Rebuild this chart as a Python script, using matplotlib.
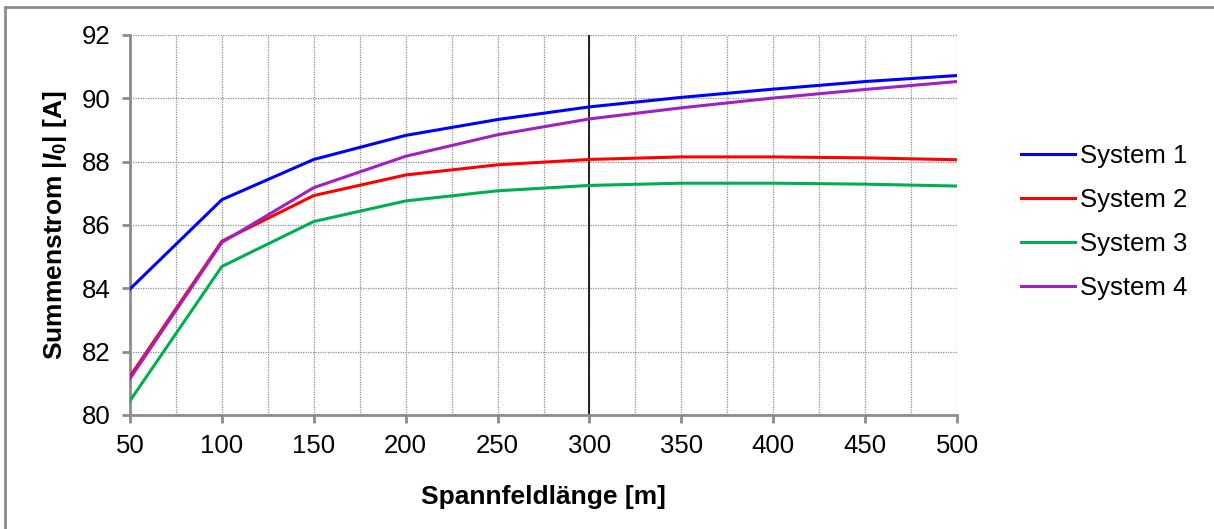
import matplotlib
matplotlib.use("Agg")
import matplotlib.pyplot as plt
from matplotlib.lines import Line2D
from matplotlib.ticker import MultipleLocator

plt.rcParams["font.family"] = ["Liberation Sans", "DejaVu Sans"]
plt.rcParams["mathtext.fontset"] = "custom"
plt.rcParams["mathtext.rm"] = "Liberation Sans:bold"
plt.rcParams["mathtext.it"] = "Liberation Sans:bold:italic"
plt.rcParams["mathtext.bf"] = "Liberation Sans:bold"

# Spannfeldlänge in m
spans = [50, 100, 150, 200, 250, 300, 350, 400, 450, 500]

# Summenstrom |I0| in A
system1 = [83.98, 86.80, 88.07, 88.83, 89.33, 89.73, 90.03, 90.29, 90.53, 90.72]
system2 = [81.22, 85.49, 86.93, 87.58, 87.90, 88.07, 88.15, 88.15, 88.12, 88.06]
system3 = [80.45, 84.69, 86.11, 86.76, 87.08, 87.25, 87.32, 87.32, 87.29, 87.23]
system4 = [81.15, 85.45, 87.18, 88.17, 88.85, 89.35, 89.70, 90.01, 90.28, 90.53]

series_names = ["System 1", "System 2", "System 3", "System 4"]
series_colors = ["#0000FF", "#FF0000", "#00B050", "#A020C0"]

x_ticks = [50, 100, 150, 200, 250, 300, 350, 400, 450, 500]
y_ticks = [80, 82, 84, 86, 88, 90, 92]
marker_span = 300

W, H = 1214, 529
fig = plt.figure(figsize=(W / 100, H / 100), dpi=100)
ax = fig.add_axes([130 / W, 1 - 415 / H, (957 - 130) / W, (415 - 35) / H])

grid_kw = dict(color="#8c8c8c", linewidth=0.9, linestyle=(0, (1, 1)))
ax.set_xlim(50, 500)
ax.set_ylim(80, 92)
ax.xaxis.set_minor_locator(MultipleLocator(25))
ax.set_xticks(x_ticks)
ax.set_yticks(y_ticks)
ax.grid(True, which="major", axis="both", **grid_kw)
ax.grid(True, which="minor", axis="x", **grid_kw)
ax.set_axisbelow(True)

all_series = [system1, system2, system3, system4]
handles = []
for vals, name, col in zip(all_series, series_names, series_colors):
    ln, = ax.plot(spans, vals, color=col, linewidth=2.2, label=name,
                  solid_joinstyle="round", zorder=3)
    handles.append(ln)

ax.axvline(marker_span, color="black", linewidth=1.2, zorder=2)

for side in ("top", "right"):
    ax.spines[side].set_visible(False)
for side in ("left", "bottom"):
    ax.spines[side].set_color("#8c8c8c")
    ax.spines[side].set_linewidth(2.0)

ax.tick_params(axis="both", which="major", direction="out", length=6,
               width=2.0, color="#8c8c8c", labelsize=18.5, labelcolor="black")
ax.tick_params(axis="x", which="major", pad=8)
ax.tick_params(axis="y", which="major", pad=8)
ax.tick_params(axis="x", which="minor", length=0)

ax.set_xlabel("Spannfeldlänge [m]", fontsize=19, fontweight="bold", labelpad=19)
ax.set_ylabel(r"Summenstrom $\mathit{|I}_{\mathrm{0}}\mathrm{|}$ [A]",
              fontsize=19, fontweight="bold", labelpad=9)

leg = fig.legend(handles=handles, labels=series_names, loc="center left",
                 bbox_to_anchor=(1021 / W, 1 - 222 / H), frameon=False,
                 fontsize=18.5, handlelength=2.1, handletextpad=0.2,
                 labelspacing=0.78, borderaxespad=0, borderpad=0)

# outer frame (top and left edges visible)
fig.add_artist(Line2D([5 / W, 5 / W], [0, 1 - 7 / H], transform=fig.transFigure,
                      color="#8c8c8c", linewidth=2.0))
fig.add_artist(Line2D([5 / W, 1], [1 - 7 / H, 1 - 7 / H], transform=fig.transFigure,
                      color="#8c8c8c", linewidth=2.0))

fig.savefig("out.png", dpi=100)
